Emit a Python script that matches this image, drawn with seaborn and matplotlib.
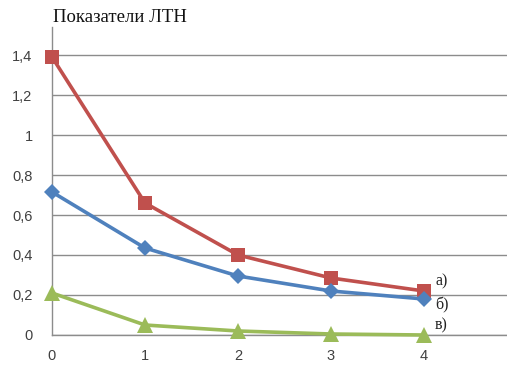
import matplotlib
matplotlib.use("Agg")
import matplotlib.pyplot as plt
from matplotlib.ticker import FixedLocator, FuncFormatter
import numpy as np
import pandas as pd
import seaborn as sns

# Values of the three indicators over steps 0..4
steps = [0, 1, 2, 3, 4]
series_a = [1.39, 0.66, 0.40, 0.285, 0.22]
series_b = [0.715, 0.435, 0.295, 0.22, 0.18]
series_c = [0.21, 0.05, 0.02, 0.005, 0.0]
series_names = ["а)", "б)", "в)"]
y_ticks = [0, 0.2, 0.4, 0.6, 0.8, 1.0, 1.2, 1.4]
title = "Показатели ЛТН"

df = pd.DataFrame({
    "step": steps * 3,
    "value": series_a + series_b + series_c,
    "series": [series_names[0]] * 5 + [series_names[1]] * 5 + [series_names[2]] * 5,
})

sns.set_theme(style="white")
plt.rcParams["font.family"] = ["Liberation Sans", "DejaVu Sans"]

W, H = 507, 367
fig = plt.figure(figsize=(W / 100, H / 100), dpi=100)
x0, x1 = 52, 507
y_top, y_bot = 27, 335
ax = fig.add_axes([x0 / W, 1 - y_bot / H, (x1 - x0) / W, (y_bot - y_top) / H])

palette = {"а)": "#C0504D", "б)": "#4F81BD", "в)": "#9BBB59"}
markers = {"а)": "s", "б)": "D", "в)": "^"}
sizes = {"а)": 10.5, "б)": 8.5, "в)": 11}

ax.yaxis.grid(True, color="#8c8c8c", linewidth=1.0)
ax.set_axisbelow(True)

for name in series_names:
    sub = df[df["series"] == name]
    sns.lineplot(data=sub, x="step", y="value", color=palette[name],
                 marker=markers[name], markersize=sizes[name],
                 markeredgewidth=0, linewidth=2.6, ax=ax, legend=False,
                 clip_on=False, zorder=3)

ax.set_xlim(0, (x1 - x0) / 93)
ax.set_ylim(0, (y_bot - y_top) / 200)
ax.xaxis.set_major_locator(FixedLocator(steps))
ax.yaxis.set_major_locator(FixedLocator(y_ticks))
ax.yaxis.set_major_formatter(FuncFormatter(lambda v, p: f"{v:g}".replace(".", ",")))
ax.set_xlabel("")
ax.set_ylabel("")

for side in ("top", "right"):
    ax.spines[side].set_visible(False)
for side in ("left", "bottom"):
    ax.spines[side].set_color("#8c8c8c")
    ax.spines[side].set_linewidth(1.0)

ax.tick_params(axis="both", which="major", length=4, width=1, color="#8c8c8c",
               labelsize=10.5, labelcolor="#404040", direction="out")
ax.tick_params(axis="y", pad=10)
ax.tick_params(axis="x", pad=6)

# series labels next to the last points
label_y = {"а)": 0.27, "б)": 0.15, "в)": 0.05}
for name in series_names:
    ax.text(4.12, label_y[name], name, fontsize=11.5, family="Liberation Serif",
            color="#222222", va="center", ha="left")

fig.text(53 / W, 1 - 18 / H, title, fontsize=13.5, family="Liberation Serif",
         color="#111111", va="center", ha="left")

fig.savefig("out.png", dpi=100)
